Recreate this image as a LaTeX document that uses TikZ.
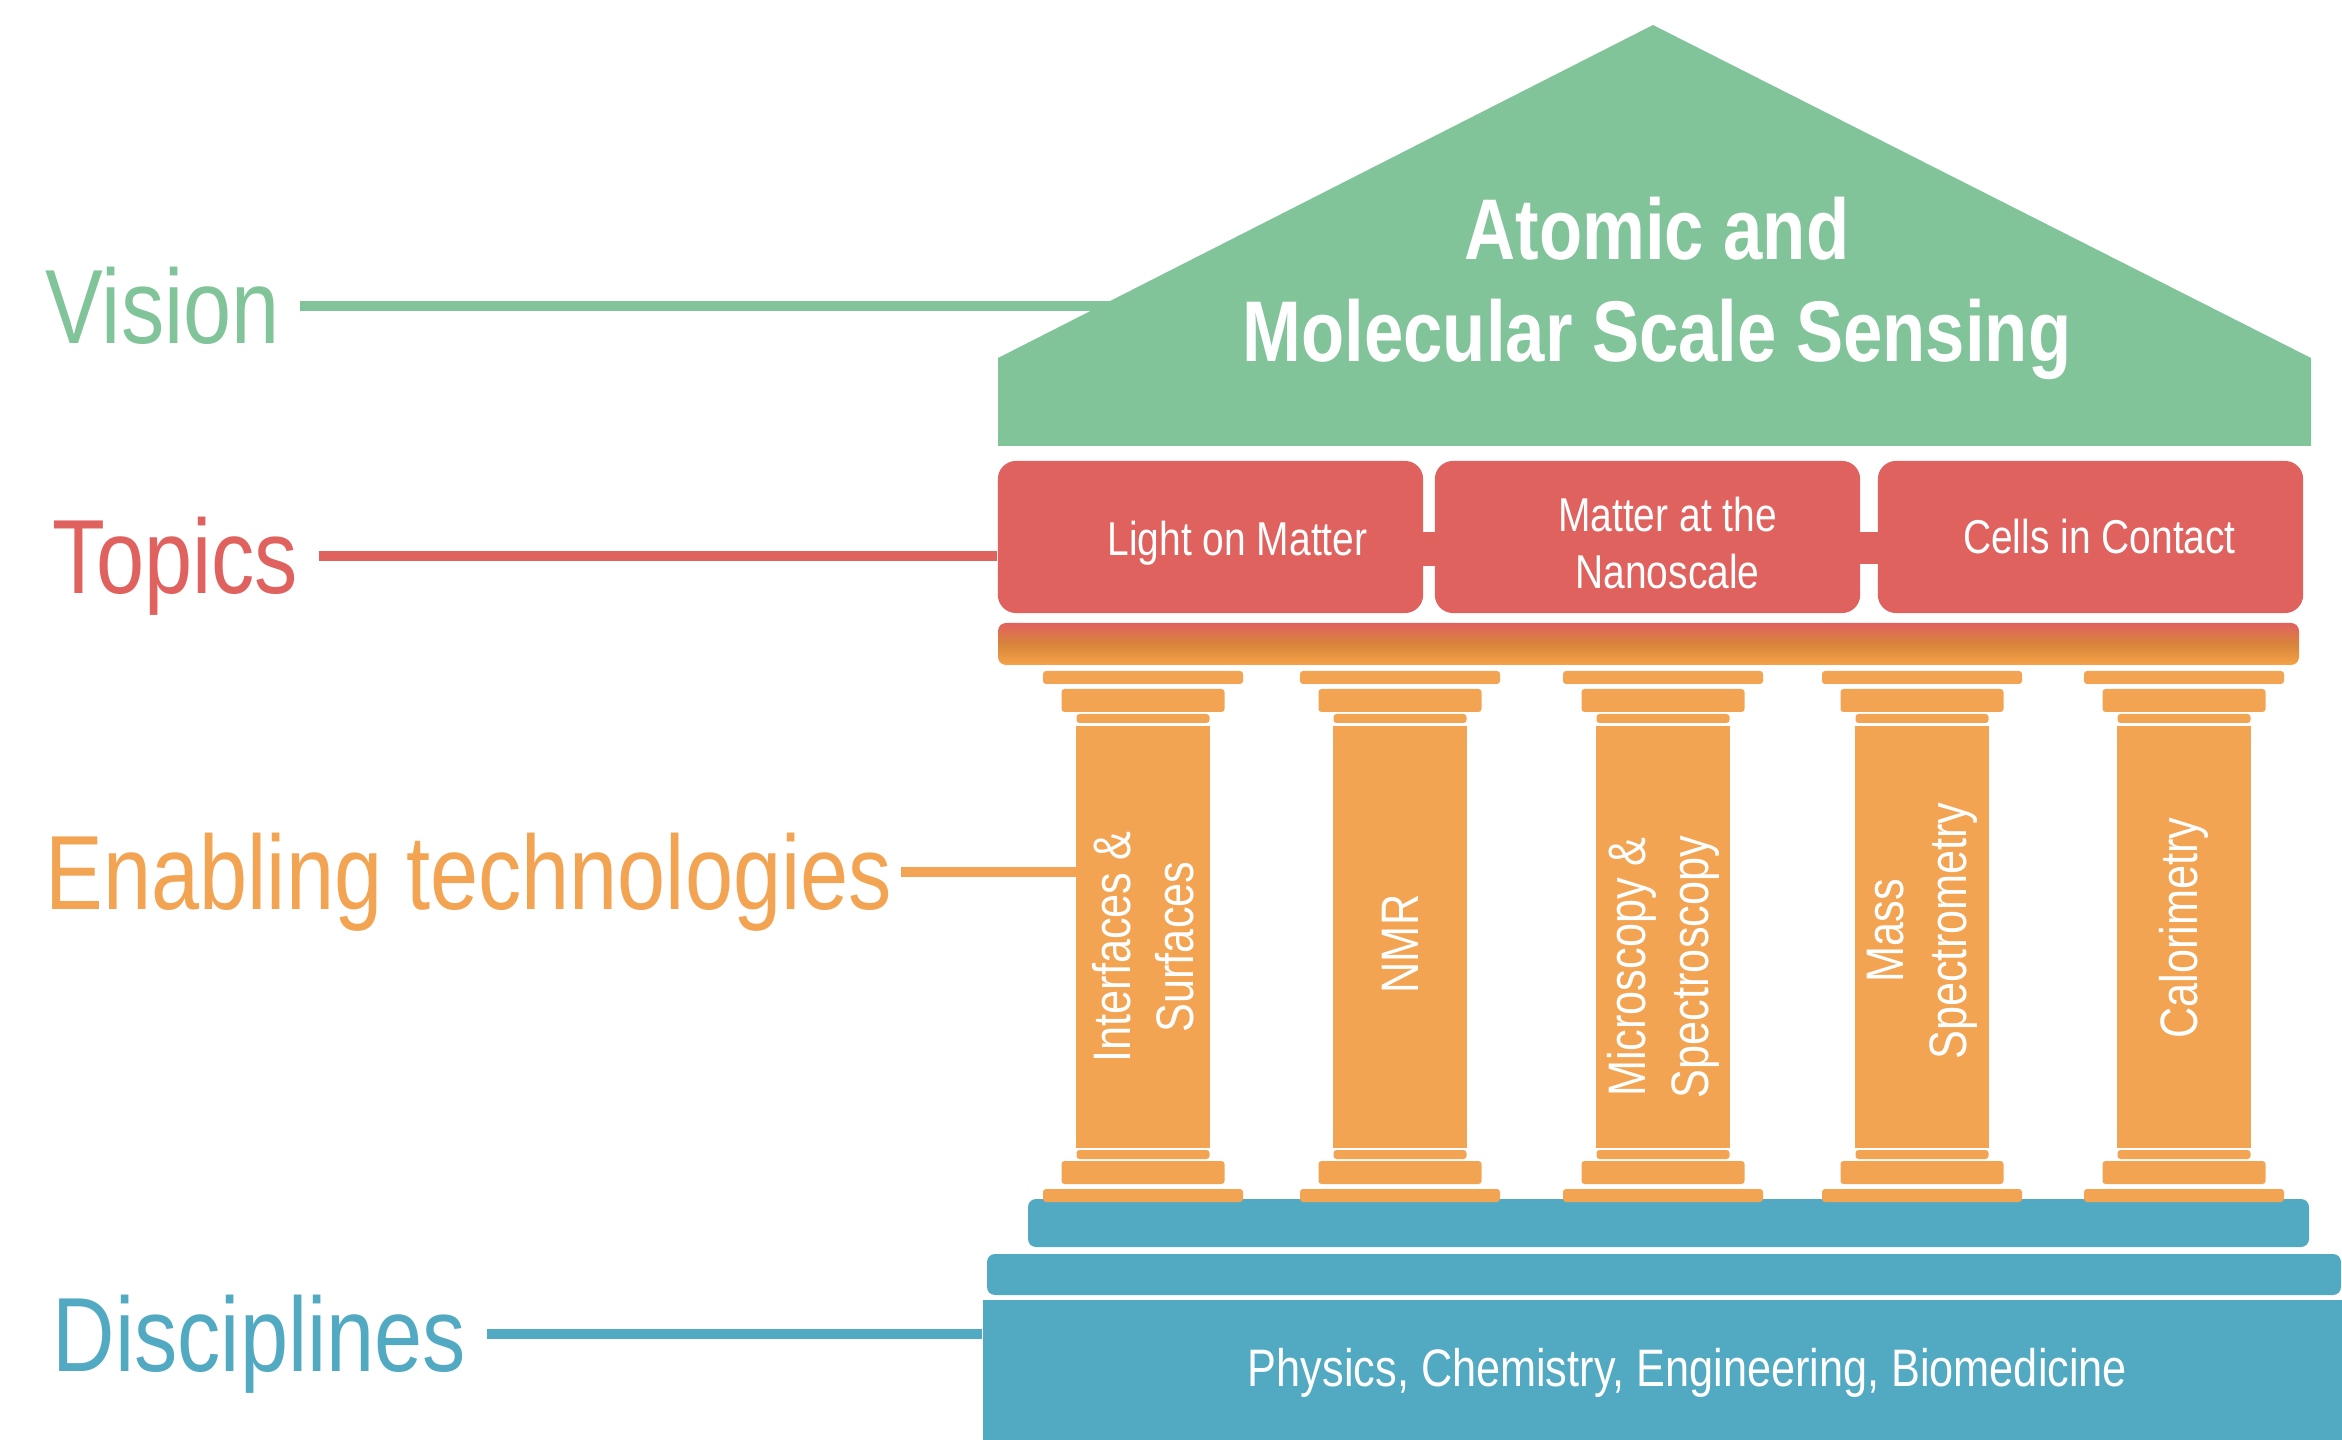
\documentclass[tikz,border=0pt]{standalone}
\usepackage{fontspec}
\setmainfont{Liberation Sans}[FakeStretch=0.82]

\definecolor{visgreen}{HTML}{82C49A}
\definecolor{topred}{HTML}{E0625F}
\definecolor{techorange}{HTML}{F3A453}
\definecolor{discblue}{HTML}{52A9C2}
\definecolor{gradmid}{HTML}{D8853C}
\definecolor{gradbot}{HTML}{F6A249}

\tikzset{
  lbl/.style={anchor=west, inner sep=0pt, text height=21.5pt, text depth=0pt,
    font=\fontsize{30}{36}\selectfont},
  lead/.style={line width=2.6pt},
  rooftext/.style={text=white, align=center, font=\bfseries\fontsize{24.5}{29}\selectfont},
  topicbox/.style={fill=topred, rounded corners=0.18cm, minimum width=4.25cm,
    minimum height=1.52cm, inner sep=0pt},
  topictext/.style={text=white, align=center, font=\fontsize{13.5}{16}\selectfont},
  shaft/.style={fill=techorange, minimum width=1.33cm, minimum height=4.22cm, inner sep=0pt},
  coltext/.style={rotate=90, text=white, align=center, font=\fontsize{15}{18}\selectfont},
  plate/.style={fill=techorange, rounded corners=0.03cm},
  slab/.style={fill=discblue, rounded corners=0.08cm},
  basebox/.style={fill=discblue, minimum width=13.59cm, minimum height=1.40cm, inner sep=0pt},
  basetext/.style={text=white, font=\fontsize{15}{18}\selectfont}
}

\begin{document}
\begin{tikzpicture}[x=0.01cm, y=-0.01cm]
  \useasboundingbox (0,0) rectangle (2342,1440);

  % Level labels
  \node[lbl, text=visgreen] (vision) at (45,306) {Vision};
  \node[lbl, text=topred] (topics) at (52,556) {Topics};
  \node[lbl, text=techorange] (enabling) at (45,872) {Enabling technologies};
  \node[lbl, text=discblue] (disciplines) at (52,1334) {Disciplines};

  % Vision line, ends under the roof
  \coordinate (visend) at (1130,306);
  \draw[lead, visgreen] ([xshift=2mm]vision.east) -- (visend);

  % Roof
  \fill[visgreen] (998,446) -- (998,358) -- (1653,25) -- (2311,358) -- (2311,446) -- cycle;
  \node[rooftext] (title) at (1657,288) {Atomic and\\Molecular Scale Sensing};

  % Topics row
  \fill[topred] (1420,532) rectangle (1438,566);
  \fill[topred] (1857,532) rectangle (1881,564);
  \node[topicbox] (light) at (1210.5,537) {};
  \node[topicbox] (nano) at (1647.5,537) {};
  \node[topicbox] (cells) at (2090.5,537) {};
  \node[topictext, xshift=2.7mm, yshift=-0.6mm] (lighttxt) at (light) {Light on Matter};
  \node[topictext, xshift=2mm, yshift=-0.6mm] (nanotxt) at (nano) {Matter at the\\Nanoscale};
  \node[topictext, xshift=0.9mm] (cellstxt) at (cells) {Cells in Contact};

  % Architrave
  \shade[rounded corners=0.08cm, top color=topred, bottom color=gradbot, middle color=gradmid]
    (998,623) rectangle (2299,665);

  % Steps and base
  \fill[slab] (1028,1199) rectangle (2309,1247);
  \fill[slab] (987,1254) rectangle (2341,1295);
  \node[basebox] (base) at (1662.5,1370) {};
  \node[basetext, xshift=2.5mm, yshift=-0.3mm] (basetxt) at (base) {Physics, Chemistry, Engineering, Biomedicine};

  % Columns
  \foreach \cx/\nm/\dy/\txt in {1143/1/-1/{Interfaces \&\\Surfaces}, 1400/2/-0.7/NMR,
      1663/3/-3/{Microscopy \&\\Spectroscopy}, 1922/4/0.6/{Mass\\Spectrometry},
      2184/5/0.9/Calorimetry}{
    \fill[plate] (\cx-100,671) rectangle (\cx+100,684);
    \fill[plate] (\cx-81.5,689) rectangle (\cx+81.5,712);
    \fill[plate] (\cx-66.5,714) rectangle (\cx+66.5,723);
    \node[shaft] (shaft\nm) at (\cx,937) {};
    \node[coltext] (col\nm) at ([yshift=\dy mm]shaft\nm) {\txt};
    \fill[plate] (\cx-66.5,1150) rectangle (\cx+66.5,1159);
    \fill[plate] (\cx-81.5,1161) rectangle (\cx+81.5,1184);
    \fill[plate] (\cx-100,1189) rectangle (\cx+100,1202);
  }

  % Leads to the levels
  \draw[lead, topred] ([xshift=2mm]topics.east) -- (topics.east -| light.west);
  \draw[lead, techorange] ([xshift=0.8mm]enabling.east) -- (enabling.east -| shaft1.west);
  \draw[lead, discblue] ([xshift=2mm]disciplines.east) -- (disciplines.east -| base.west);
\end{tikzpicture}
\end{document}
